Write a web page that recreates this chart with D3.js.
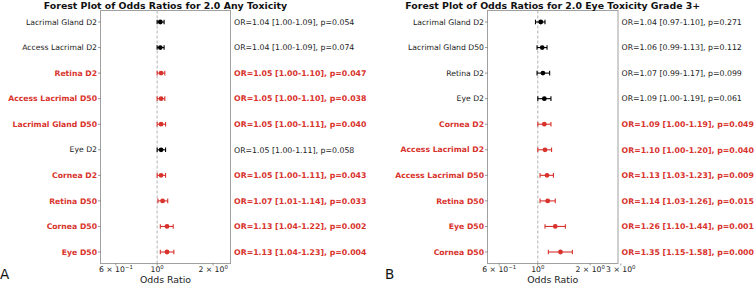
<!DOCTYPE html>
<html>
<head>
<meta charset="utf-8">
<script src="https://cdn.jsdelivr.net/npm/d3@7"></script>
<style>
  body { margin: 0; background: #fff; }
  svg text { font-family: "DejaVu Sans", sans-serif; }
</style>
</head>
<body>
<div id="chart"></div>
<script>
// panel A data
const labelsA = ["Lacrimal Gland D2", "Access Lacrimal D2", "Retina D2", "Access Lacrimal D50",
  "Lacrimal Gland D50", "Eye D2", "Cornea D2", "Retina D50", "Cornea D50", "Eye D50"];
const orA = [1.04, 1.04, 1.05, 1.05, 1.05, 1.05, 1.05, 1.07, 1.13, 1.13];
const lowA = [1.00, 1.00, 1.00, 1.00, 1.00, 1.00, 1.00, 1.01, 1.04, 1.04];
const highA = [1.09, 1.09, 1.10, 1.10, 1.11, 1.11, 1.11, 1.14, 1.22, 1.23];
const pA = ["0.054", "0.074", "0.047", "0.038", "0.040", "0.058", "0.043", "0.033", "0.002", "0.004"];

// panel B data
const labelsB = ["Lacrimal Gland D2", "Lacrimal Gland D50", "Retina D2", "Eye D2", "Cornea D2",
  "Access Lacrimal D2", "Access Lacrimal D50", "Retina D50", "Eye D50", "Cornea D50"];
const orB = [1.04, 1.06, 1.07, 1.09, 1.09, 1.10, 1.13, 1.14, 1.26, 1.35];
const lowB = [0.97, 0.99, 0.99, 1.00, 1.00, 1.00, 1.03, 1.03, 1.10, 1.15];
const highB = [1.10, 1.13, 1.17, 1.19, 1.19, 1.20, 1.23, 1.26, 1.44, 1.58];
const pB = ["0.271", "0.112", "0.099", "0.061", "0.049", "0.040", "0.009", "0.015", "0.001", "0.000"];

// x ticks: [value, mantissa, exponent]
const ticksA = [[0.6, "6", "−1"], [1, "", "0"], [2, "2", "0"]];
const ticksB = [[0.6, "6", "−1"], [1, "", "0"], [2, "2", "0"], [3, "3", "0"]];

const red = "#d8322c";

const svg = d3.select("#chart").append("svg")
  .attr("width", 754).attr("height", 284);

function panel(opt) {
  const rows = opt.labels.map((l, i) => ({
    label: l, or: opt.or[i], lo: opt.lo[i], hi: opt.hi[i], p: opt.p[i],
    sig: +opt.p[i] < 0.05
  }));

  const x = d3.scaleLog().domain(opt.xdom).range([opt.left, opt.right]);
  const y = d3.scaleLinear().domain([-0.45, rows.length - 1 + 0.45]).range([10.5, 263.5]);
  const g = svg.append("g");

  // frame
  g.append("rect")
    .attr("x", opt.left).attr("y", 10.5)
    .attr("width", opt.right - opt.left).attr("height", 253)
    .attr("fill", "none").attr("stroke", "#a0a0a0").attr("stroke-width", 1);

  // reference line at 1
  g.append("line")
    .attr("x1", x(1)).attr("x2", x(1)).attr("y1", 10.5).attr("y2", 263.5)
    .attr("stroke", "#aaa").attr("stroke-width", 0.9).attr("stroke-dasharray", "3,2");

  // title
  g.append("text")
    .attr("x", (opt.left + opt.right) / 2).attr("y", 8.5)
    .attr("text-anchor", "middle").attr("font-weight", "bold").attr("font-size", 9.4)
    .attr("fill", "#111").text(opt.title);

  // y labels + small ticks
  const yl = g.selectAll(".ylab").data(rows).join("g");
  yl.append("line")
    .attr("x1", opt.left - 2.5).attr("x2", opt.left)
    .attr("y1", (d, i) => y(i)).attr("y2", (d, i) => y(i))
    .attr("stroke", "#555").attr("stroke-width", 0.6);
  yl.append("text")
    .attr("x", opt.left - 3.5).attr("y", (d, i) => y(i))
    .attr("dy", "0.35em").attr("text-anchor", "end").attr("font-size", 7.7)
    .attr("font-weight", d => d.sig ? "bold" : "normal")
    .attr("fill", d => d.sig ? red : "#222")
    .text(d => d.label);

  // error bars
  const eb = g.selectAll(".eb").data(rows).join("g")
    .attr("stroke", d => d.sig ? red : "#000")
    .attr("stroke-width", 1.1);
  eb.append("line")
    .attr("x1", d => x(d.lo)).attr("x2", d => x(d.hi))
    .attr("y1", (d, i) => y(i)).attr("y2", (d, i) => y(i));
  eb.append("line")
    .attr("x1", d => x(d.lo)).attr("x2", d => x(d.lo))
    .attr("y1", (d, i) => y(i) - 2.3).attr("y2", (d, i) => y(i) + 2.3);
  eb.append("line")
    .attr("x1", d => x(d.hi)).attr("x2", d => x(d.hi))
    .attr("y1", (d, i) => y(i) - 2.3).attr("y2", (d, i) => y(i) + 2.3);
  eb.append("circle")
    .attr("cx", d => x(d.or)).attr("cy", (d, i) => y(i)).attr("r", 2.4)
    .attr("fill", d => d.sig ? red : "#000").attr("stroke", "none");

  // annotations
  g.selectAll(".ann").data(rows).join("text")
    .attr("x", opt.right + 3.5).attr("y", (d, i) => y(i))
    .attr("dy", "0.35em").attr("font-size", 7.8)
    .attr("font-weight", d => d.sig ? "bold" : "normal")
    .attr("fill", d => d.sig ? red : "#222")
    .text(d => `OR=${d.or.toFixed(2)} [${d.lo.toFixed(2)}-${d.hi.toFixed(2)}], p=${d.p}`);

  // x ticks
  const xt = g.selectAll(".xt").data(opt.ticks).join("g");
  xt.append("line")
    .attr("x1", d => x(d[0])).attr("x2", d => x(d[0]))
    .attr("y1", 263.5).attr("y2", 265.5)
    .attr("stroke", "#555").attr("stroke-width", 0.6);
  const tt = xt.append("text")
    .attr("x", d => x(d[0])).attr("y", 272)
    .attr("text-anchor", "middle").attr("font-size", 7.7).attr("fill", "#222");
  tt.append("tspan").text(d => d[1] ? d[1] + " × 10" : "10");
  tt.append("tspan").attr("dy", -3.2).attr("font-size", 5.4).text(d => d[2]);

  // x axis label
  g.append("text")
    .attr("x", (opt.left + opt.right) / 2).attr("y", 283)
    .attr("text-anchor", "middle").attr("font-size", 9.4).attr("fill", "#222")
    .text("Odds Ratio");

  // panel letter
  g.append("text")
    .attr("x", opt.letterX).attr("y", 279)
    .attr("font-size", 13.5).attr("fill", "#111").text(opt.letter);
}

panel({
  labels: labelsA, or: orA, lo: lowA, hi: highA, p: pA, ticks: ticksA,
  xdom: [0.496, 2.48], left: 100.5, right: 230.5,
  title: "Forest Plot of Odds Ratios for 2.0 Any Toxicity", letter: "A", letterX: 0
});
panel({
  labels: labelsB, or: orB, lo: lowB, hi: highB, p: pB, ticks: ticksB,
  xdom: [0.514, 2.89], left: 487.5, right: 618,
  title: "Forest Plot of Odds Ratios for 2.0 Eye Toxicity Grade 3+", letter: "B", letterX: 385
});
</script>
</body>
</html>
